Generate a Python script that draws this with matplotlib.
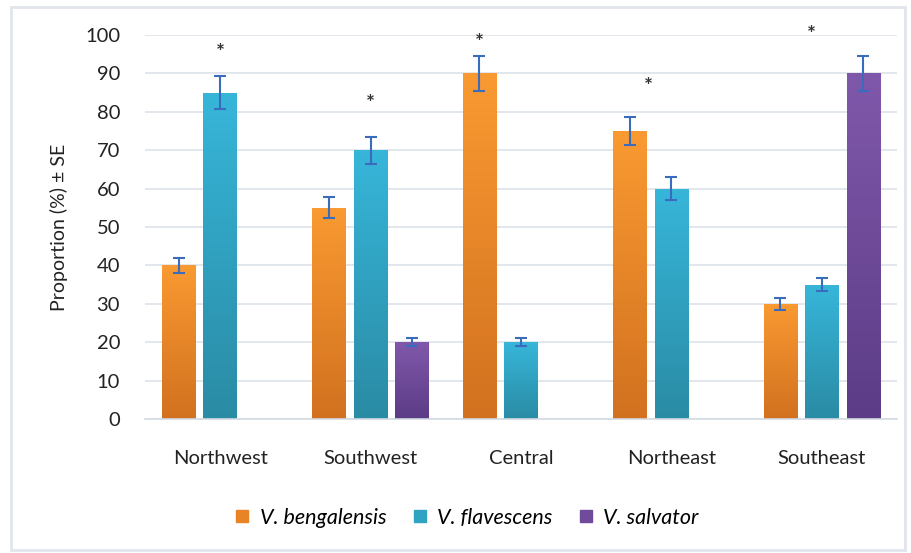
import numpy as np
import matplotlib
matplotlib.use("Agg")
import matplotlib.pyplot as plt
from matplotlib.colors import LinearSegmentedColormap
from matplotlib.patches import Rectangle
from matplotlib.lines import Line2D

regions = ["Northwest", "Southwest", "Central", "Northeast", "Southeast"]
species = ["V. bengalensis", "V. flavescens", "V. salvator"]

# proportion (%) per region, NaN where the species was not recorded
bengalensis = [40, 55, 90, 75, 30]
flavescens = [85, 70, 20, 60, 35]
salvator = [np.nan, 20, np.nan, np.nan, 90]

bengalensis_se = [2.0, 2.75, 4.5, 3.6, 1.5]
flavescens_se = [4.25, 3.5, 1.0, 3.0, 1.75]
salvator_se = [np.nan, 1.0, np.nan, np.nan, 4.5]

# significance markers: region index, x shift within group, height
star_region = [0, 1, 2, 3, 4]
star_shift = [0.0, 0.0, -0.276, -0.156, -0.072]
star_height = [95.3, 82, 98, 86.5, 100]

plt.rcParams['font.family'] = ['Lato', 'DejaVu Sans']

grad = {
    "V. bengalensis": ("#f99a32", "#d2711f"),
    "V. flavescens": ("#37b6da", "#2a8ba4"),
    "V. salvator": ("#8058ab", "#5c3c86"),
}
legend_col = {"V. bengalensis": "#e88425", "V. flavescens": "#2fa3c2", "V. salvator": "#6f4b9a"}

fig = plt.figure(figsize=(9.11, 5.53), dpi=100)
ax = fig.add_axes([145 / 911, 1 - 419 / 553, 752 / 911, 384 / 553])

x = np.arange(len(regions))
width = 0.223
step = 0.276
series = [(bengalensis, bengalensis_se), (flavescens, flavescens_se), (salvator, salvator_se)]

gradient = np.linspace(1, 0, 256).reshape(-1, 1)
for k, (name, (vals, errs)) in enumerate(zip(species, series)):
    pos = x + (k - 1) * step
    bars = ax.bar(pos, vals, width, color=legend_col[name], zorder=2)
    cmap = LinearSegmentedColormap.from_list(name, [grad[name][1], grad[name][0]])
    for b in bars:
        h = b.get_height()
        if not np.isfinite(h) or h <= 0:
            continue
        x0 = b.get_x()
        im = ax.imshow(gradient, cmap=cmap, aspect='auto', vmin=0, vmax=1,
                       extent=[x0, x0 + b.get_width(), 0, h], zorder=2.5,
                       interpolation='bicubic')
        im.set_clip_path(b)
    ax.errorbar(pos, vals, yerr=errs, fmt='none', ecolor="#3a6cbd",
                elinewidth=1.5, capsize=4, capthick=1.5, zorder=3)

for r, dx, h in zip(star_region, star_shift, star_height):
    ax.text(x[r] + dx, h, "*", ha='center', va='center', fontsize=15,
            fontweight='bold', color="#333333", zorder=4)

ax.set_xlim(-0.5, len(regions) - 0.5)
ax.set_ylim(0, 100)
ax.set_yticks(range(0, 101, 10))
ax.set_xticks(x)
ax.set_xticklabels(regions)
ax.tick_params(axis='both', length=0, labelsize=14.5, colors="#222222")
ax.tick_params(axis='y', pad=18)
ax.tick_params(axis='x', pad=22)
ax.yaxis.grid(True, color="#dde3ea", linewidth=1.2, zorder=0)
ax.set_axisbelow(True)
for s in ['top', 'right', 'left']:
    ax.spines[s].set_visible(False)
ax.spines['bottom'].set_color("#d4dae2")
ax.spines['bottom'].set_linewidth(1.2)
ax.set_ylabel("Proportion (%) ± SE", fontsize=14, color="#222222", labelpad=12)

handles = [Line2D([], [], marker='s', linestyle='none', markersize=9,
                  markerfacecolor=legend_col[n], markeredgecolor=legend_col[n]) for n in species]
fig.legend(handles, species, loc='center', bbox_to_anchor=(466 / 911, 1 - 518 / 553),
           ncol=3, frameon=False, prop={'style': 'italic', 'size': 15.5},
           handlelength=0.8, handletextpad=0.4, columnspacing=1.15)

# light frame round the whole figure
fig.patches.append(Rectangle((11 / 911, 3 / 553), 894 / 911, 543 / 553, transform=fig.transFigure,
                             fill=False, edgecolor="#e1e6ec", linewidth=2))

fig.savefig("out.png", dpi=100)
